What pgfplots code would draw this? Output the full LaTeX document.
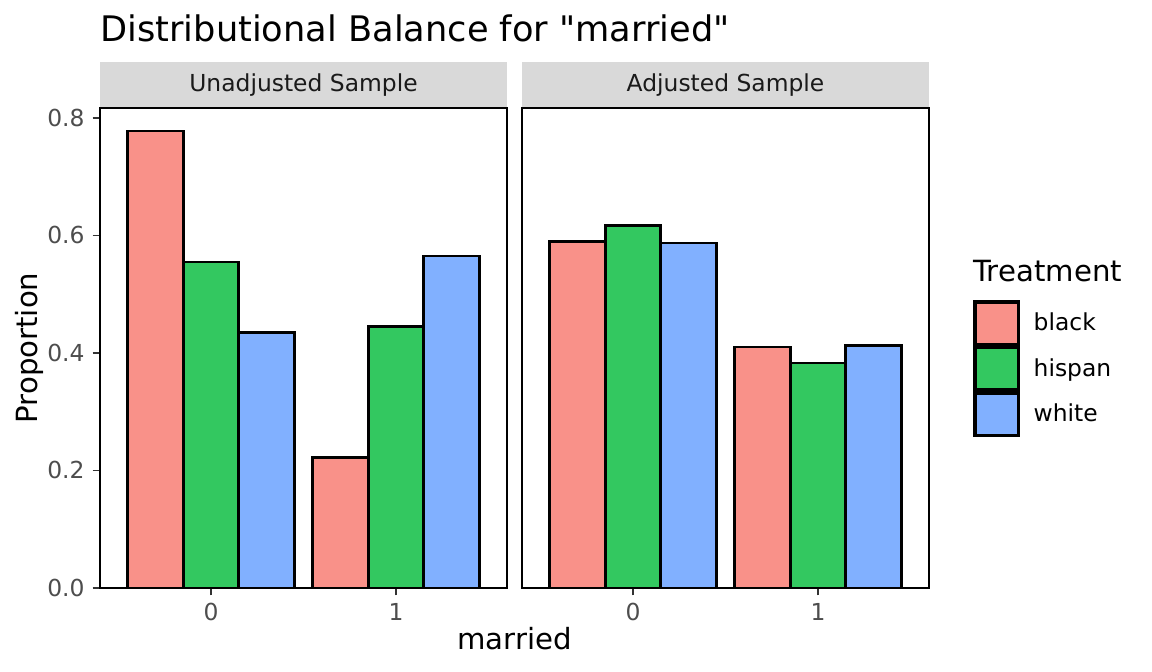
\documentclass[border=0pt]{standalone}
\usepackage{pgfplots}
\pgfplotsset{compat=1.18}
\usepackage{fontspec}
\setmainfont{DejaVu Sans}[Ligatures=TeXOff]
\definecolor{cblack}{HTML}{F99189}
\definecolor{chisp}{HTML}{33C860}
\definecolor{cwhite}{HTML}{81B0FF}
\definecolor{stripgray}{HTML}{D9D9D9}
\definecolor{gray30}{HTML}{4D4D4D}
\definecolor{gray20}{HTML}{333333}
\definecolor{gray10}{HTML}{1A1A1A}
\newcommand{\smallfont}{\fontsize{11.7pt}{13pt}\selectfont}
\pgfplotsset{
  panel/.style={
    anchor=south west,
    scale only axis,
    width=203.5pt, height=240pt,
    xmin=-0.6, xmax=1.6, ymin=0, ymax=0.817,
    ybar, bar width=0.3,
    axis on top,
    axis line style={black, line width=0.8pt},
    tick align=outside,
    major tick length=3.66pt,
    major tick style={gray20, line width=0.9pt},
    xtick={0,1}, xticklabels={0,1},
    xtick pos=bottom, ytick pos=left,
    tick label style={font=\smallfont, text=gray30, inner sep=0pt},
    xticklabel style={yshift=-3.9pt},
    yticklabel style={xshift=-3.9pt},
    /pgf/number format/assume math mode=true,
    yticklabel style={/pgf/number format/.cd, fixed, fixed zerofill, precision=1},
    every axis plot/.append style={draw=black, line width=1.35pt},
  }
}
\begin{document}
\begin{tikzpicture}[x=1pt,y=1pt]
\path[use as bounding box] (0,0) rectangle (576,336);
% strips
\fill[stripgray] (50,282) rectangle (253.5,305);
\fill[stripgray] (261,282) rectangle (464.5,305);
\node[text=gray10, font=\smallfont] at (151.75,293.5) {Unadjusted Sample};
\node[text=gray10, font=\smallfont] at (362.75,293.5) {Adjusted Sample};
% left panel
\begin{axis}[panel, at={(50pt,42pt)},
  ytick={0,0.2,0.4,0.6,0.8}]
\addplot[bar shift=-0.3, fill=cblack] coordinates {(0,0.778) (1,0.222)};
\addplot[bar shift=0, fill=chisp] coordinates {(0,0.555) (1,0.445)};
\addplot[bar shift=0.3, fill=cwhite] coordinates {(0,0.435) (1,0.565)};
\end{axis}
% right panel
\begin{axis}[panel, at={(261pt,42pt)},
  ytick=\empty,
  legend style={at={(1.108,0.6)}, anchor=north west, draw=none, fill=none,
    inner sep=0pt, row sep=0pt, column sep=0pt,
    font=\smallfont,
    nodes={inner sep=0pt, anchor=west}},
  legend cell align=left,
  legend image code/.code={\draw[#1, draw=black, line width=1.7pt] (0.85pt,-10.55pt) rectangle (22.65pt,10.55pt); \path (29.5pt,0pt);},
  ]
\addplot[bar shift=-0.3, fill=cblack] coordinates {(0,0.590) (1,0.410)};
\addplot[bar shift=0, fill=chisp] coordinates {(0,0.617) (1,0.383)};
\addplot[bar shift=0.3, fill=cwhite] coordinates {(0,0.587) (1,0.413)};
\legend{black,hispan,white}
\end{axis}
% titles
\node[anchor=base west, font=\fontsize{17.6pt}{20pt}\selectfont, inner sep=0pt] at (50,315.2) {Distributional Balance for "married"};
\node[anchor=base, font=\fontsize{14.6pt}{17pt}\selectfont, inner sep=0pt] at (257.25,11) {married};
\node[anchor=base, rotate=90, font=\fontsize{14.6pt}{17pt}\selectfont, inner sep=0pt] at (18.5,162) {Proportion};
\node[anchor=base west, font=\fontsize{14.6pt}{17pt}\selectfont, inner sep=0pt] at (486.5,195.2) {Treatment};
\end{tikzpicture}
\end{document}
